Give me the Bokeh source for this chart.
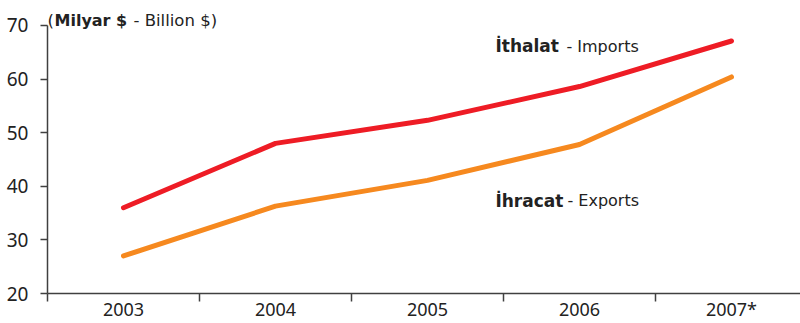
from bokeh.plotting import figure
from bokeh.models import Range1d, FixedTicker, Label
from bokeh.embed import file_html
from bokeh.resources import INLINE

years = ["2003", "2004", "2005", "2006", "2007*"]
imports = [36.0, 48.0, 52.3, 58.6, 67.1]
exports = [27.0, 36.3, 41.1, 47.8, 60.4]
y_ticks = [20, 30, 40, 50, 60, 70]

x = list(range(len(years)))

p = figure(width=800, height=323, output_backend="svg", toolbar_location=None,
           x_range=Range1d(-0.5, 4.454), y_range=Range1d(20, 73.72),
           min_border_left=47, min_border_right=0, min_border_top=5, min_border_bottom=29)
p.outline_line_color = None
p.grid.grid_line_color = None
p.background_fill_color = "white"

p.line(x, imports, line_color="#EE1C25", line_width=5, line_cap="round", line_join="round")
p.line(x, exports, line_color="#F6891F", line_width=5, line_cap="round", line_join="round")

# x axis
p.xaxis.ticker = FixedTicker(ticks=x, minor_ticks=[i - 0.5 for i in x])
p.xaxis.major_label_overrides = {i: y for i, y in enumerate(years)}
p.xaxis.major_tick_line_color = None
p.xaxis.major_tick_out = 0
p.xaxis.major_tick_in = 0
p.xaxis.minor_tick_out = 8
p.xaxis.minor_tick_in = 0
p.xaxis.minor_tick_line_color = "#404040"
p.xaxis.minor_tick_line_width = 1.5
p.xaxis.axis_line_color = "#404040"
p.xaxis.axis_line_width = 1.5
p.xaxis.major_label_text_font = "Noto Sans"
p.xaxis.major_label_text_font_size = "18px"
p.xaxis.major_label_text_color = "#222222"
p.xaxis.major_label_standoff = -5

# y axis
p.yaxis.ticker = FixedTicker(ticks=y_ticks)
p.yaxis.bounds = (20, 70)
p.yaxis.minor_tick_line_color = None
p.yaxis.major_tick_out = 7
p.yaxis.major_tick_in = 0
p.yaxis.major_tick_line_color = "#404040"
p.yaxis.major_tick_line_width = 1.5
p.yaxis.axis_line_color = "#404040"
p.yaxis.axis_line_width = 1.5
p.yaxis.major_label_text_font = "Noto Sans"
p.yaxis.major_label_text_font_size = "19px"
p.yaxis.major_label_text_color = "#222222"
p.yaxis.major_label_standoff = 12

font = "DejaVu Sans"
col = "#222222"


def lab(xv, yv, dx, text, bold=False, dy=0, size="16px"):
    p.add_layout(Label(x=xv, y=yv, x_offset=dx, y_offset=dy, text=text, text_font=font,
                       text_font_size=size,
                       text_font_style="bold" if bold else "normal",
                       text_baseline="alphabetic", text_color=col))


lab(-0.5, 70, 0, "(", dy=5, size="16.5px")
lab(-0.5, 70, 7, "Milyar $", bold=True, dy=5)
lab(-0.5, 70, 86, "- Billion $)", dy=5, size="16.5px")

lab(2.447, 66.1, 0, "İthalat", bold=True, size="17px")
lab(2.447, 66.1, 71, "- Imports")
lab(2.447, 37.3, 0, "İhracat", bold=True, size="17px")
lab(2.447, 37.3, 72, "- Exports")

open("out.html", "w").write(file_html(p, INLINE))
